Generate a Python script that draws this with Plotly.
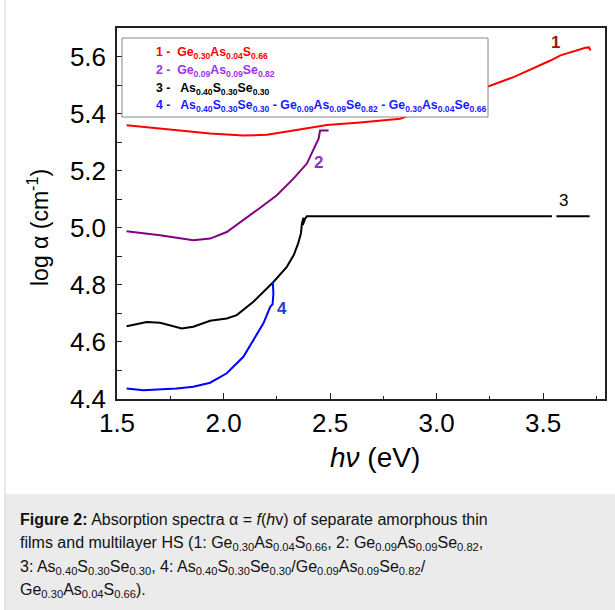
import plotly.graph_objects as go

# ---- data ----
x1 = [1.545, 1.702, 1.890, 1.937, 2.093, 2.172, 2.203, 2.328, 2.485, 2.641, 2.829, 2.95, 3.10, 3.244, 3.361, 3.534, 3.581, 3.698, 3.715, 3.722]
y1 = [5.359, 5.347, 5.335, 5.330, 5.323, 5.325, 5.326, 5.341, 5.360, 5.369, 5.382, 5.415, 5.456, 5.496, 5.528, 5.586, 5.604, 5.631, 5.632, 5.621]

x2 = [1.545, 1.702, 1.858, 1.937, 2.015, 2.093, 2.172, 2.250, 2.328, 2.391, 2.422, 2.446, 2.453, 2.493]
y2 = [4.988, 4.974, 4.956, 4.962, 4.985, 5.026, 5.070, 5.114, 5.172, 5.225, 5.271, 5.312, 5.341, 5.341]

x3 = [1.545, 1.640, 1.702, 1.804, 1.858, 1.937, 2.015, 2.062, 2.140, 2.234, 2.297, 2.330, 2.350, 2.363, 2.368, 2.375, 2.372, 2.383, 2.391, 3.541, None, 3.562, 3.718]
y3 = [4.655, 4.670, 4.667, 4.647, 4.653, 4.674, 4.682, 4.694, 4.741, 4.810, 4.863, 4.905, 4.945, 4.980, 5.015, 5.035, 5.010, 5.032, 5.040, 5.040, None, 5.040, 5.040]

x4 = [1.545, 1.624, 1.780, 1.858, 1.937, 2.015, 2.093, 2.140, 2.187, 2.219, 2.230, 2.234, 2.231]
y4 = [4.437, 4.431, 4.437, 4.443, 4.457, 4.490, 4.548, 4.606, 4.665, 4.723, 4.732, 4.770, 4.810]

series_colors = ["#ff0000", "#800080", "#000000", "#0000ff"]

curve_labels = ["1", "2", "3", "4"]
label_x = [3.557, 2.446, 3.593, 2.274]
label_y = [5.650, 5.227, 5.096, 4.717]
label_colors = ["#a51010", "#8a35c0", "#000000", "#2a3fd0"]
label_bold = [True, True, False, True]

legend_texts = [
    "1 -  Ge<sub>0.30</sub>As<sub>0.04</sub>S<sub>0.66</sub>",
    "2 -  Ge<sub>0.09</sub>As<sub>0.09</sub>Se<sub>0.82</sub>",
    "3 -   As<sub>0.40</sub>S<sub>0.30</sub>Se<sub>0.30</sub>",
    "4 -   As<sub>0.40</sub>S<sub>0.30</sub>Se<sub>0.30</sub> - Ge<sub>0.09</sub>As<sub>0.09</sub>Se<sub>0.82</sub> - Ge<sub>0.30</sub>As<sub>0.04</sub>Se<sub>0.66</sub>",
]
legend_colors = ["#ff0000", "#9933ee", "#000000", "#1a1aff"]

caption_lines = [
    "<b>Figure 2:</b> Absorption spectra α = <i>f</i>(<i>h</i>v) of separate amorphous thin",
    "films and multilayer HS (1: Ge<sub>0.30</sub>As<sub>0.04</sub>S<sub>0.66</sub>, 2: Ge<sub>0.09</sub>As<sub>0.09</sub>Se<sub>0.82</sub>,",
    "3: As<sub>0.40</sub>S<sub>0.30</sub>Se<sub>0.30</sub>, 4: As<sub>0.40</sub>S<sub>0.30</sub>Se<sub>0.30</sub>/Ge<sub>0.09</sub>As<sub>0.09</sub>Se<sub>0.82</sub>/",
    "Ge<sub>0.30</sub>As<sub>0.04</sub>S<sub>0.66</sub>).",
]

xticks = [1.5, 2.0, 2.5, 3.0, 3.5]
yticks = [4.4, 4.6, 4.8, 5.0, 5.2, 5.4, 5.6]

FONT = "Liberation Sans, Arial, sans-serif"
W, H = 615, 610
L, R, T, B = 117, 10, 28, 211
PW, PH = W - L - R, H - T - B


def px(xp):
    return (xp - L) / PW


def py(yp):
    return (H - B - yp) / PH


fig = go.Figure()
for xs, ys, c in zip([x1, x2, x3, x4], [y1, y2, y3, y4], series_colors):
    fig.add_trace(go.Scatter(x=xs, y=ys, mode="lines", line=dict(color=c, width=2),
                             showlegend=False, hoverinfo="skip", connectgaps=False))

annotations = []
for t, lx, ly, c, b in zip(curve_labels, label_x, label_y, label_colors, label_bold):
    annotations.append(dict(x=lx, y=ly, xref="x", yref="y", text=f"<b>{t}</b>" if b else t,
                            showarrow=False, font=dict(family=FONT, size=17, color=c)))

legend_y = [53, 71, 88.5, 106]
for t, c, yy in zip(legend_texts, legend_colors, legend_y):
    annotations.append(dict(x=px(154), y=py(yy), xref="paper", yref="paper", xanchor="left",
                            yanchor="middle", text=f"<b>{t}</b>", showarrow=False,
                            font=dict(family=FONT, size=12.3, color=c)))

# axis titles
annotations.append(dict(x=px(375), y=py(457), xref="paper", yref="paper", xanchor="center",
                        yanchor="middle", text="<i>hν</i> (eV)",
                        showarrow=False, font=dict(family=FONT, size=28, color="#000")))
annotations.append(dict(x=px(38), y=py(228), xref="paper", yref="paper", xanchor="center",
                        yanchor="middle", text="log α (cm<sup>-1</sup>)",
                        textangle=-90, showarrow=False, font=dict(family=FONT, size=23, color="#000")))

cap_y = [519, 543, 567, 590]
for t, yy in zip(caption_lines, cap_y):
    annotations.append(dict(x=px(18), y=py(yy), xref="paper", yref="paper", xanchor="left",
                            yanchor="middle", text=t, showarrow=False,
                            font=dict(family=FONT, size=16, color="#111")))

shapes = [
    # legend box
    dict(type="rect", xref="paper", yref="paper", x0=px(122), x1=px(488), y0=py(117), y1=py(38),
         fillcolor="white", line=dict(color="#888", width=1), layer="above"),
    # caption background
    dict(type="rect", xref="paper", yref="paper", x0=px(5), x1=px(620), y0=py(615), y1=py(494),
         fillcolor="#ebebeb", line=dict(width=0), layer="below"),
    # left page border
    dict(type="line", xref="paper", yref="paper", x0=px(5), x1=px(5), y0=py(0), y1=py(610),
         line=dict(color="#d4d4d4", width=1)),
]

fig.update_layout(
    width=W, height=H, margin=dict(l=L, r=R, t=T, b=B, autoexpand=False),
    paper_bgcolor="white", plot_bgcolor="white",
    font=dict(family=FONT, color="#000"),
    annotations=annotations, shapes=shapes,
    xaxis=dict(range=[1.5, 3.79], tickvals=xticks, ticktext=[f"{v:.1f}" for v in xticks],
               ticks="inside", ticklen=6, tickwidth=1.2, tickcolor="#222",
               minor=dict(tickvals=[1.75, 2.25, 2.75, 3.25, 3.75], ticks="inside", ticklen=3, tickcolor="#222"),
               showline=True, linecolor="#222", linewidth=1.5, mirror=True,
               showgrid=False, zeroline=False, tickfont=dict(family=FONT, size=26, color="#000"),
               automargin=False),
    yaxis=dict(range=[4.4, 5.7], tickvals=yticks, ticktext=[f"{v:.1f}" for v in yticks],
               ticks="inside", ticklen=5, tickwidth=1.2, tickcolor="#222",
               minor=dict(tickvals=[4.5, 4.7, 4.9, 5.1, 5.3, 5.5], ticks="inside", ticklen=5, tickcolor="#222"),
               showline=True, linecolor="#222", linewidth=1.5, mirror=True,
               showgrid=False, zeroline=False, tickfont=dict(family=FONT, size=26, color="#000"),
               ticklabelstandoff=4, automargin=False),
)

fig.write_html("out.html")
